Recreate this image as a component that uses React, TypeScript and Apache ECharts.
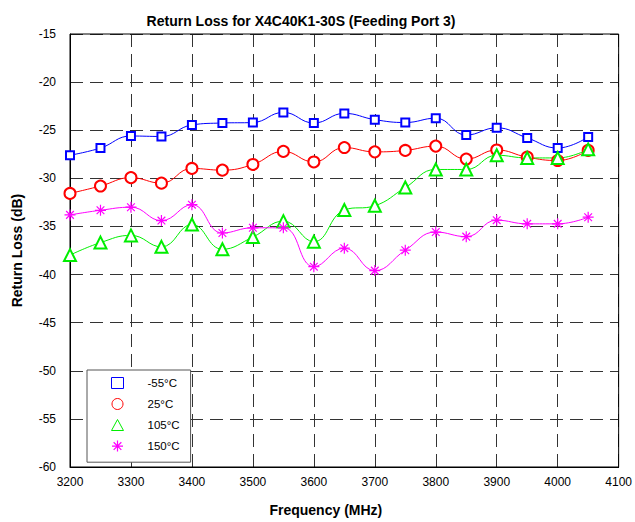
import React, { useEffect, useRef } from "react";
import * as echarts from "echarts";

const freqs = [3200, 3250, 3300, 3350, 3400, 3450, 3500, 3550, 3600, 3650, 3700, 3750, 3800, 3850, 3900, 3950, 4000, 4050];
const seriesNames = ["-55°C", "25°C", "105°C", "150°C"];
const rlMinus55 = [-27.6, -26.85, -25.6, -25.65, -24.45, -24.25, -24.2, -23.15, -24.25, -23.25, -23.9, -24.2, -23.75, -25.5, -24.75, -25.8, -26.85, -25.7];
const rl25 = [-31.57, -30.8, -29.93, -30.5, -28.97, -29.15, -28.56, -27.2, -28.3, -26.8, -27.25, -27.1, -26.65, -28.0, -27.05, -27.8, -28.15, -27.1];
const rl105 = [-37.98, -36.68, -35.93, -37.12, -34.8, -37.37, -36.1, -34.45, -36.58, -33.29, -32.85, -30.96, -29.08, -29.08, -27.6, -27.88, -27.88, -26.99];
const rl150 = [-33.8, -33.32, -33.0, -34.39, -32.74, -35.68, -35.14, -35.14, -39.18, -37.26, -39.59, -37.47, -35.58, -36.06, -34.35, -34.73, -34.73, -34.04];
const xTicks = { min: 3200, max: 4100, interval: 100 };
const yTicks = { min: -60, max: -15, interval: 5 };

const colors = ["#0000ff", "#ff0000", "#00ee00", "#ff00ff"];
const asterisk = "path://M0,-10L0,10M-10,0L10,0M-7,-7L7,7M-7,7L7,-7";
const FONT = "Liberation Sans, Arial, sans-serif";

export default function App() {
  const ref = useRef<HTMLDivElement>(null);
  useEffect(() => {
    if (!ref.current) return;
    const chart = echarts.init(ref.current, undefined, { renderer: "svg" });
    const values = [rlMinus55, rl25, rl105, rl150];
    const symbols = ["emptyRect", "emptyCircle", "emptyTriangle", asterisk];
    const legendIcons = ["rect", "circle", "triangle", asterisk];
    const sizes = [8, 11, 12, 11];
    const series = values.map((vals, i) => ({
      name: seriesNames[i],
      type: "line",
      smooth: 0.45,
      data: freqs.map((f, k) => [f, vals[k]]),
      symbol: symbols[i],
      symbolSize: sizes[i],
      showSymbol: true,
      lineStyle: { color: colors[i], width: 1 },
      itemStyle: i === 3
        ? { color: colors[i], borderColor: colors[i], borderWidth: 1.2 }
        : { color: colors[i], borderColor: colors[i], borderWidth: 1 },
      emphasis: { disabled: true },
      z: 3,
    }));
    chart.setOption({
      animation: false,
      backgroundColor: "#fff",
      textStyle: { fontFamily: FONT },
      title: {
        text: "Return Loss for X4C40K1-30S (Feeding Port 3)",
        left: 296,
        textAlign: "center",
        top: 9,
        textStyle: { fontFamily: FONT, fontSize: 14, fontWeight: "bold", color: "#000" },
      },
      grid: { left: 70, right: 12, top: 34, bottom: 50, show: true, borderColor: "#000", borderWidth: 1, backgroundColor: "transparent", z: 2 },
      legend: {
        orient: "vertical",
        left: 87,
        top: 370,
        padding: [7, 11, 10, 24],
        itemWidth: 12,
        itemHeight: 11,
        itemGap: 9,
        symbolKeepAspect: true,
        borderColor: "#555",
        borderWidth: 1,
        backgroundColor: "#fff",
        textStyle: { fontFamily: FONT, fontSize: 11.5, color: "#000", padding: [0, 0, 0, 19] },
        data: seriesNames.map((n, i) => ({
          name: n,
          icon: legendIcons[i],
          itemStyle: { color: i === 3 ? colors[i] : "#fff", borderColor: colors[i], borderWidth: i === 3 ? 1.2 : 1 },
        })),
        z: 10,
      },
      xAxis: {
        type: "value",
        min: xTicks.min,
        max: xTicks.max,
        interval: xTicks.interval,
        name: "Frequency (MHz)",
        nameLocation: "middle",
        nameGap: 36,
        nameTextStyle: { fontFamily: FONT, fontSize: 14, fontWeight: "bold", color: "#000", padding: [0, 37, 0, 0] },
        axisLine: { show: true, lineStyle: { color: "#000", width: 1 } },
        axisTick: { show: false },
        axisLabel: { color: "#000", fontSize: 12, fontFamily: FONT, margin: 9, formatter: (v: number) => String(v) },
        splitLine: { show: true, lineStyle: { color: "#333", type: [13, 7], width: 1 } },
      },
      yAxis: {
        type: "value",
        min: yTicks.min,
        max: yTicks.max,
        interval: yTicks.interval,
        name: "Return Loss (dB)",
        nameLocation: "middle",
        nameGap: 46,
        nameRotate: 90,
        nameTextStyle: { fontFamily: FONT, fontSize: 14, fontWeight: "bold", color: "#000" },
        axisLine: { show: true, lineStyle: { color: "#000", width: 1 } },
        axisTick: { show: false },
        axisLabel: { color: "#000", fontSize: 12, fontFamily: FONT, margin: 14, formatter: (v: number) => String(v) },
        splitLine: { show: true, lineStyle: { color: "#333", type: [13, 7], width: 1 } },
      },
      series,
    });
    return () => chart.dispose();
  }, []);
  return <div ref={ref} style={{ width: 635, height: 522, position: "absolute", left: 0, top: 0 }} />;
}
